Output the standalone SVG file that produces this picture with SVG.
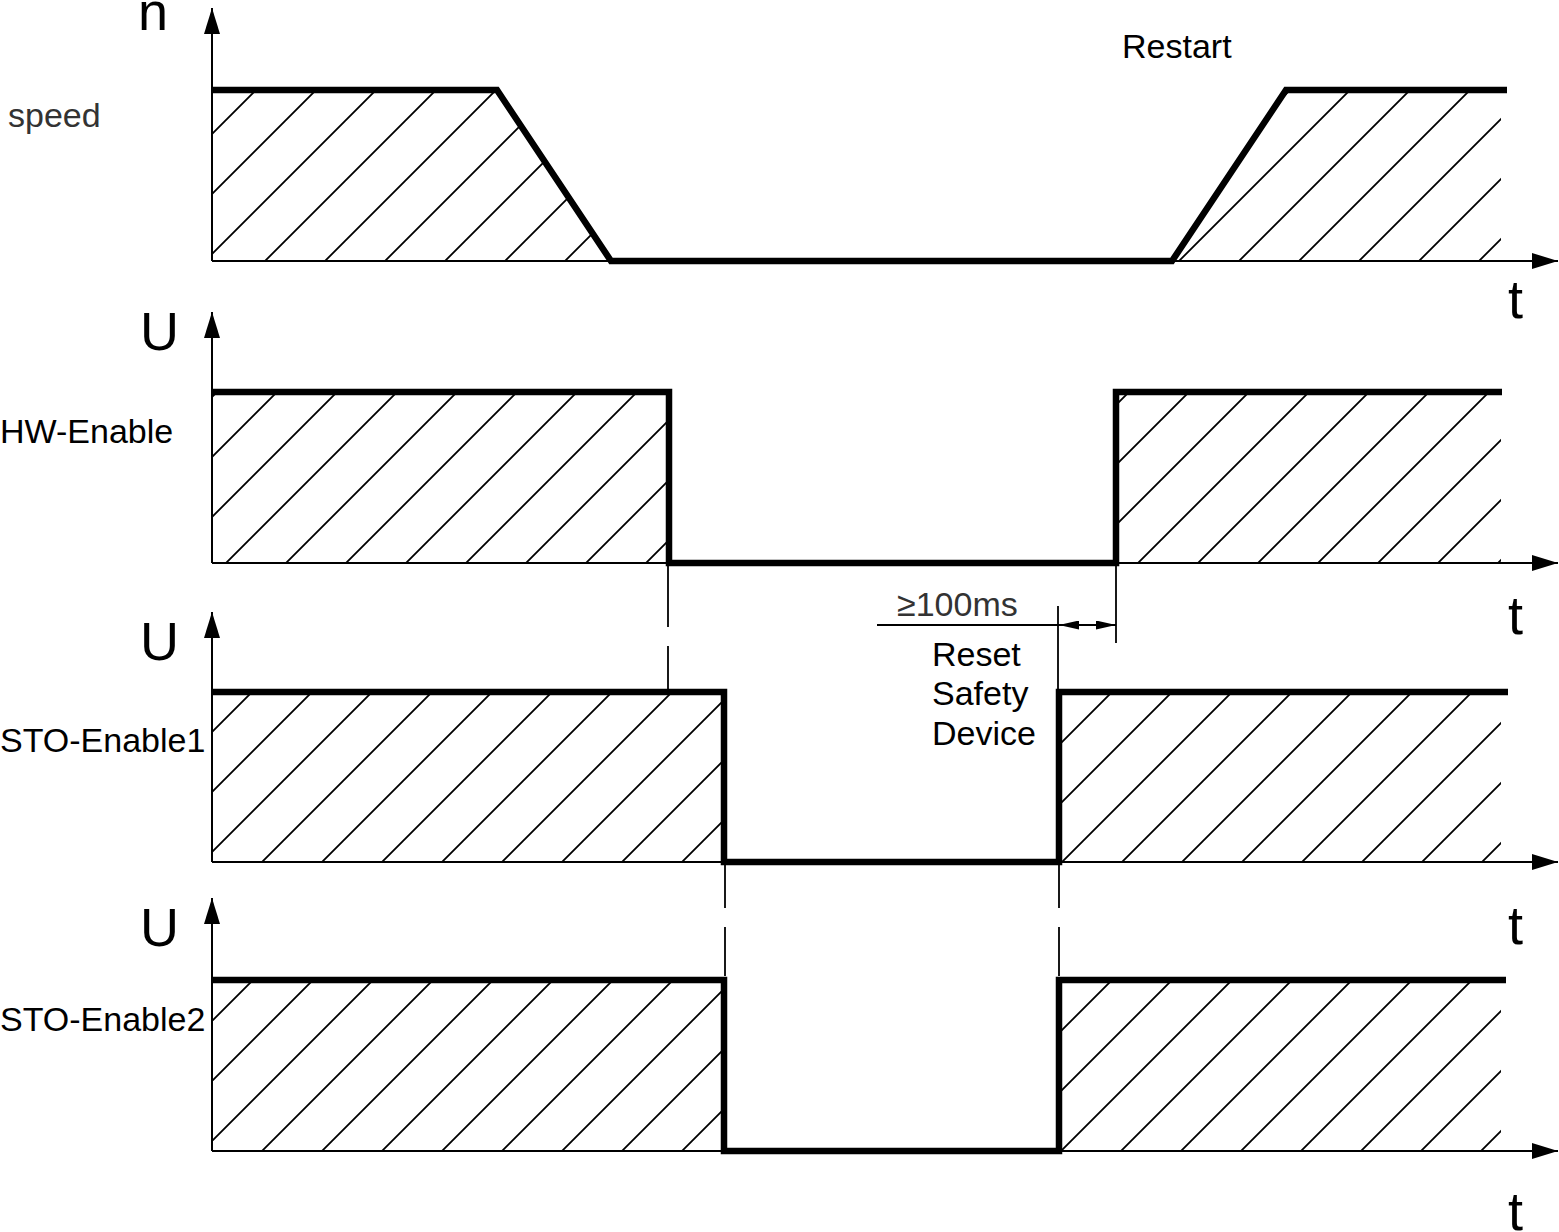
<svg xmlns="http://www.w3.org/2000/svg" width="1559" height="1232" viewBox="0 0 1559 1232">
<style>
text{font-family:"Liberation Sans",Arial,sans-serif;fill:#000}
.big{font-size:54px}
.lbl{font-size:34px}
.gray{fill:#333}
.axis{stroke:#000;stroke-width:2;fill:none}
.sig{stroke:#000;stroke-width:6.5;fill:none;stroke-linejoin:miter;stroke-linecap:butt}
.thin{stroke:#000;stroke-width:1.8;fill:none}
.hatch{fill:url(#h)}
</style>
<defs>
<pattern id="h" patternUnits="userSpaceOnUse" width="60" height="60">
<path d="M-5,65 L65,-5 M-5,5 L5,-5 M55,65 L65,55" stroke="#000" stroke-width="1.8" fill="none"/>
</pattern>
<marker id="ax" markerUnits="userSpaceOnUse" markerWidth="26" markerHeight="16" refX="26" refY="8" orient="auto" viewBox="0 0 26 16">
<path d="M0,0 L26,8 L0,16 z" fill="#000"/>
</marker>
<marker id="dim" markerUnits="userSpaceOnUse" markerWidth="20" markerHeight="9" refX="20" refY="4.5" orient="auto-start-reverse" viewBox="0 0 20 9">
<path d="M0,0 L20,4.5 L0,9 z" fill="#000"/>
</marker>
<clipPath id="c1"><polygon points="212,90 497,90 611,261 212,261"/></clipPath>
<clipPath id="c2"><polygon points="1173,261 1286,90 1501,90 1501,261"/></clipPath>
</defs>
<rect width="1559" height="1232" fill="#fff"/>

<g id="speed">
<g clip-path="url(#c1)"><rect x="166" y="90" width="445" height="171" class="hatch" transform="translate(46,0)"/></g>
<g clip-path="url(#c2)"><rect x="1173" y="90" width="328" height="171" class="hatch"/></g>
<line x1="212" y1="261" x2="212" y2="8" class="axis" marker-end="url(#ax)"/>
<line x1="212" y1="261" x2="1558" y2="261" class="axis" marker-end="url(#ax)"/>
<polyline points="212,90 497,90 611,261 1172,261 1286,90 1507,90" class="sig"/>
<text x="138" y="30" class="big">n</text>
<text x="8" y="127" class="lbl gray">speed</text>
<text x="1122" y="58" class="lbl">Restart</text>
<text x="1508" y="318" class="big">t</text>
</g>

<g id="hw-enable">
<rect x="203" y="392" width="457" height="171" class="hatch" transform="translate(9,0)"/>
<rect x="1095" y="392" width="385" height="171" class="hatch" transform="translate(21,0)"/>
<line x1="212" y1="563" x2="212" y2="312" class="axis" marker-end="url(#ax)"/>
<line x1="212" y1="563" x2="1558" y2="563" class="axis" marker-end="url(#ax)"/>
<polyline points="212,392 669,392 669,563 1116,563 1116,392 1502,392" class="sig"/>
<text x="140" y="350" class="big">U</text>
<text x="0" y="443" class="lbl">HW-Enable</text>
<text x="1508" y="634" class="big">t</text>
</g>

<g id="sto-enable1">
<rect x="168" y="692" width="512" height="170" class="hatch" transform="translate(44,0)"/>
<rect x="1055" y="692" width="442" height="170" class="hatch" transform="translate(4,0)"/>
<line x1="212" y1="862" x2="212" y2="612" class="axis" marker-end="url(#ax)"/>
<line x1="212" y1="862" x2="1558" y2="862" class="axis" marker-end="url(#ax)"/>
<polyline points="212,692 724,692 724,862 1059,862 1059,692 1508,692" class="sig"/>
<text x="140" y="660" class="big">U</text>
<text x="0" y="752" class="lbl">STO-Enable1</text>
<text x="1508" y="944" class="big">t</text>
</g>

<g id="sto-enable2">
<rect x="179" y="980" width="512" height="171" class="hatch" transform="translate(33,0)"/>
<rect x="1007" y="980" width="442" height="171" class="hatch" transform="translate(52,0)"/>
<line x1="212" y1="1151" x2="212" y2="898" class="axis" marker-end="url(#ax)"/>
<line x1="212" y1="1151" x2="1558" y2="1151" class="axis" marker-end="url(#ax)"/>
<polyline points="212,980 724,980 724,1151 1059,1151 1059,980 1506,980" class="sig"/>
<text x="140" y="946" class="big">U</text>
<text x="0" y="1031" class="lbl">STO-Enable2</text>
<text x="1508" y="1230" class="big">t</text>
</g>

<g id="reset-note">
<text x="897" y="616" class="lbl gray">≥100ms</text>
<text x="932" y="666" class="lbl">Reset</text>
<text x="932" y="705" class="lbl">Safety</text>
<text x="932" y="745" class="lbl">Device</text>
</g>

<g id="connectors">
<line x1="668" y1="563" x2="668" y2="627" class="thin"/>
<line x1="668" y1="646" x2="668" y2="690" class="thin"/>
<line x1="725" y1="863" x2="725" y2="908" class="thin"/>
<line x1="725" y1="927" x2="725" y2="976" class="thin"/>
<line x1="1059" y1="863" x2="1059" y2="908" class="thin"/>
<line x1="1059" y1="927" x2="1059" y2="976" class="thin"/>
<line x1="1116" y1="563" x2="1116" y2="643" class="thin"/>
<line x1="1058" y1="606" x2="1058" y2="692" class="thin"/>
<line x1="877" y1="625" x2="1059" y2="625" class="thin"/>
<line x1="1059" y1="625" x2="1116" y2="625" class="thin" marker-start="url(#dim)" marker-end="url(#dim)"/>
</g>
</svg>
